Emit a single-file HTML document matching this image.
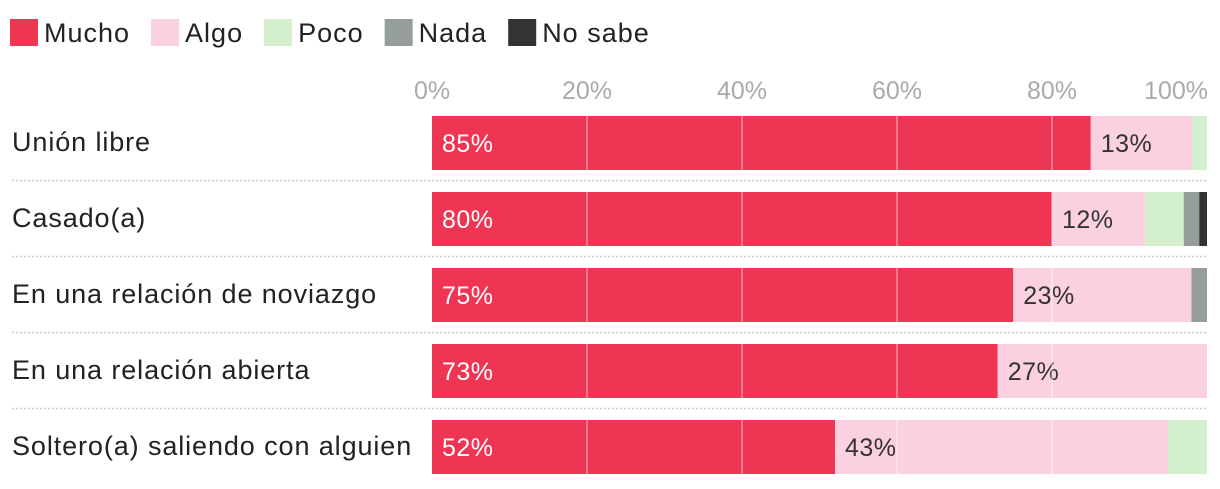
<!DOCTYPE html>
<html><head><meta charset="utf-8"><style>
body{margin:0;background:#fff;font-family:"Liberation Sans",sans-serif;}
svg text{font-family:"Liberation Sans",sans-serif;}
</style></head><body>
<svg width="1220" height="484" id="chart"></svg>
<script>
const categories=["Unión libre","Casado(a)","En una relación de noviazgo","En una relación abierta","Soltero(a) saliendo con alguien"];
const seriesNames=["Mucho","Algo","Poco","Nada","No sabe"];
const colors=["#ee3554","#fbd0e0","#d4efcd","#969e9c","#333333"];
const mucho=[85,80,75,73,52];
const algo=[13,12,23,27,43];
const poco=[2,5,0,0,5];
const nada=[0,2,2,0,0];
const noSabe=[0,1,0,0,0];
const ticks=[0,20,40,60,80,100];
const series=[mucho,algo,poco,nada,noSabe];
const svg=document.getElementById('chart');
const NS='http://www.w3.org/2000/svg';
const x0=432,x1=1207;
const xs=v=>x0+(x1-x0)*v/100;
const rowTop=i=>116+i*76;
function mk(t,a){const e=document.createElementNS(NS,t);for(const k in a)e.setAttribute(k,a[k]);svg.appendChild(e);return e;}
// legend
let lx=10;
seriesNames.forEach((n,i)=>{
 const r=mk('rect',{x:lx,y:19,width:28,height:27,fill:colors[i]});
 
 
 const t=mk('text',{x:lx+34,y:42,'font-size':27,'letter-spacing':1,fill:'#222'});t.textContent=n;
 
 
 lx+=34+t.getComputedTextLength()+21;
});
// tick labels
ticks.forEach((v,i)=>{
 const t=mk('text',{x:xs(v),y:99,'font-size':25,fill:'#aaa','text-anchor':'middle'});
 if(i==0){t.setAttribute('x',xs(v)-18);t.setAttribute('text-anchor','start');}
 if(i==ticks.length-1){t.setAttribute('x',xs(v)+1);t.setAttribute('text-anchor','end');}
 t.textContent=v+'%';
 
 
});
categories.forEach((c,i)=>{
 const y=rowTop(i);
 const l=mk('text',{x:12,y:y+35,'font-size':27,'letter-spacing':0.9,fill:'#222'});l.textContent=c;
 
 
 let acc=0;
 series.forEach((s,j)=>{
  const v=s[i];if(!v)return;
  const r=mk('rect',{x:xs(acc),y:y,width:xs(acc+v)-xs(acc),height:54,fill:colors[j]});
  
  
  if(j<2&&v>=10){
   const t=mk('text',{x:xs(acc)+10,y:y+36,'font-size':25,'letter-spacing':0.5,fill:j==0?'#fff':'#333'});t.textContent=v+'%';
   
   
  }
  acc+=v;
 });
 if(i<categories.length-1){
  const d=mk('line',{x1:12,x2:1208,y1:y+64.5,y2:y+64.5,stroke:'#ccc','stroke-width':1.5,'stroke-dasharray':'2,2'});
  
  
 }
});
// gridlines over bars
ticks.slice(1,-1).forEach(v=>{
 categories.forEach((c,i)=>{
  const g=mk('line',{x1:xs(v),x2:xs(v),y1:rowTop(i),y2:rowTop(i)+54,stroke:'#fff','stroke-opacity':0.45,'stroke-width':1.5});
  
  
 });
});
</script>
</body></html>
